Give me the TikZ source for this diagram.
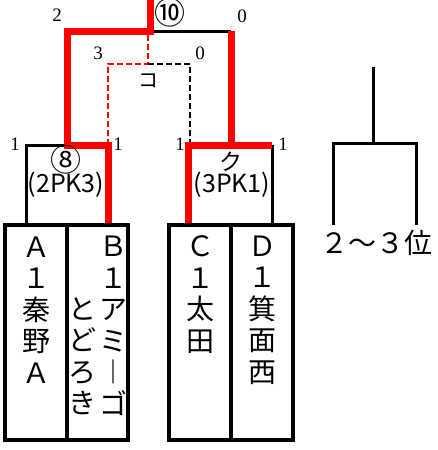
\documentclass[tikz,border=0pt]{standalone}
\usepackage{fontspec}
\setmainfont{Liberation Serif}
\newfontfamily\jp{Noto Sans CJK JP}
\begin{document}
\begin{tikzpicture}[x=1pt,y=-1pt,
  blk/.style={line width=3pt,black},
  win/.style={line width=7pt,red},
  dsh/.style={line width=2.5pt,dash pattern=on 6pt off 3pt},
  frame/.style={draw,line width=3.5pt,inner sep=0pt},
  col/.style={font=\jp\fontsize{28}{31.5}\selectfont,align=center,inner sep=0pt},
  score/.style={font=\fontsize{19}{19}\selectfont,inner sep=0pt},
  circ/.style={font=\jp\fontsize{31}{31}\selectfont,inner sep=0pt},
  kana/.style={font=\jp\fontsize{23}{23}\selectfont,inner sep=0pt},
  pk/.style={font=\jp\fontsize{25}{25}\selectfont,inner sep=0pt},
]
\useasboundingbox (0,0) rectangle (437,450);
% coordinates of bracket corners
\coordinate (top) at (150,-5);
\coordinate (f1) at (150,31);
\coordinate (f2) at (67,31);
\coordinate (f3) at (231,31);
\coordinate (s1) at (67,145);
\coordinate (s0) at (26,145);
\coordinate (s2) at (108,145);
\coordinate (k1) at (188,145);
\coordinate (k2) at (272,145);
\coordinate (k0) at (231,145);
\coordinate (c1) at (148,31);
\coordinate (c2) at (148,64);
\coordinate (c3) at (108,64);
\coordinate (c4) at (190,64);
\coordinate (c5) at (190,145);
\coordinate (a) at (26,223);
\coordinate (b) at (108,223);
\coordinate (c) at (188,223);
\coordinate (d) at (272,223);
% consolation (dashed)
\draw[dsh,red] (s2) -- (c3) -- (c2) -- (c1);
\draw[dsh,black] (c2) -- (c4) -- (c5);
% black parts
\draw[blk] (a) -- (s0) -- (s1);
\draw[blk] (f1) -- (f3);
\draw[blk] (d) -- (k2);
% winners
\draw[win] (b) -- (s2) -- (s1) -- (f2) -- (f1) -- (top);
\draw[win] (c) -- (k1) -- (k2);
\draw[win] (k0) -- (f3);
% boxes
\node[frame,minimum width=123,minimum height=215] (AB) at (66.5,332.5) {};
\node[frame,minimum width=124,minimum height=215] (CD) at (231,332.5) {};
\draw[line width=3.5pt] (67,225) -- (67,440);
\draw[line width=3.5pt] (231,225) -- (231,440);
% team names
\node[col] (A) at (36,310) {Ａ\\１\\秦\\野\\Ａ};
\node[col] (B1) at (113,326) {Ｂ\\１\\ア\\ミ\\︱\\ゴ};
\node[col] (B2) at (82,356.5) {と\\ど\\ろ\\き};
\node[col] (C) at (200,294.5) {Ｃ\\１\\太\\田};
\node[col] (D) at (262,310) {Ｄ\\１\\箕\\面\\西};
% scores
\node[score] (sc1) at (57,15) {2};
\node[score] (sc2) at (242,16) {0};
\node[score] (sc3) at (98,53) {3};
\node[score] (sc4) at (200,53) {0};
\node[score] (sc5) at (15,144) {1};
\node[score] (sc6) at (118,144) {1};
\node[score] (sc7) at (180,144) {1};
\node[score] (sc8) at (283,144) {1};
% match labels
\node[circ] (m10) at (170,13) {⑩};
\node[font=\jp\fontsize{20}{20}\selectfont,inner sep=0pt] (mko) at (148,81) {コ};
\node[circ] (m8) at (66,160) {⑧};
\node[pk] (p8) at (66,185) {(2PK3)};
\node[kana] (mku) at (231,162) {ク};
\node[pk] (pku) at (232,185) {(3PK1)};
% 2-3 place bracket
\coordinate (r0) at (373,67);
\coordinate (r1) at (373,143);
\coordinate (r2) at (333,143);
\coordinate (r3) at (416,143);
\coordinate (r4) at (333,225);
\coordinate (r5) at (416,225);
\draw[blk] (r0) -- (r1);
\draw[blk] (r4) -- (r2) -- (r3) -- (r5);
\node[col] (rank) at (376,243) {２～３位};
\end{tikzpicture}
\end{document}
